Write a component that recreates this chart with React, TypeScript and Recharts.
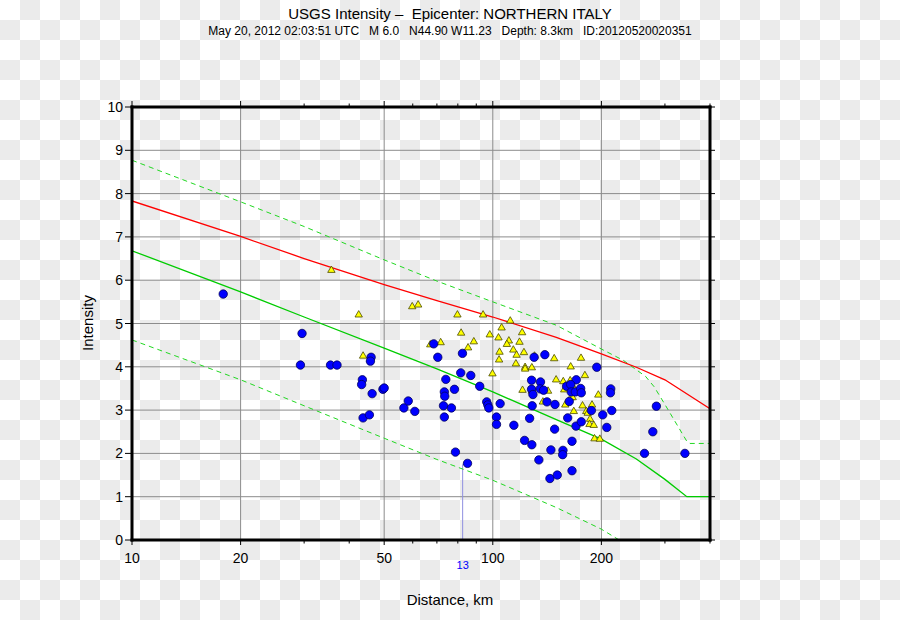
import React from 'react';
import { ComposedChart, XAxis, YAxis, Line, Scatter, ReferenceLine } from 'recharts';

// ---------- axis values ----------
const xTickValues = [10, 20, 30, 40, 50, 60, 70, 80, 90, 100, 200, 300, 400];
const xLabelledTicks = [10, 20, 50, 100, 200];
const yTickValues = [0, 1, 2, 3, 4, 5, 6, 7, 8, 9, 10];
const xGridValues = [20, 50, 100, 200];
const yGridValues = [1, 2, 3, 4, 5, 6, 7, 8, 9];

// ---------- curves: [distance km, intensity] ----------
const redCurve: [number, number][] = [
  [10, 7.83], [20, 7.01], [30, 6.5], [50, 5.9], [70, 5.53], [100, 5.15],
  [150, 4.68], [200, 4.3], [250, 3.99], [300, 3.7], [400, 3.03],
];
const greenCurve: [number, number][] = [
  [10, 6.68], [20, 5.73], [30, 5.15], [50, 4.43], [70, 3.95], [100, 3.42],
  [150, 2.78], [200, 2.33], [250, 1.87], [300, 1.4], [345, 1.0], [400, 1.0],
];
const greenUpper: [number, number][] = [
  [10, 8.77], [20, 7.81], [30, 7.24], [50, 6.47], [70, 5.98], [100, 5.5],
  [150, 4.96], [200, 4.41], [230, 4.15], [250, 3.93], [265, 3.78], [280, 3.54],
  [300, 3.13], [345, 2.28], [352, 2.23], [400, 2.23],
];
const greenLower: [number, number][] = [
  [10, 4.62], [20, 3.7], [30, 3.1], [50, 2.35], [70, 1.86], [100, 1.38],
  [150, 0.75], [200, 0.25], [224, 0.0],
];

// ---------- observations: [distance km, intensity] ----------
const stationPoints: [number, number][] = [
  [17.9, 5.68], [29.6, 4.77], [29.3, 4.04], [35.5, 4.04], [37.0, 4.04], [43.5, 3.7],
  [43.3, 3.59], [46.0, 4.22], [45.8, 4.13], [46.3, 3.38], [43.7, 2.82], [45.5, 2.89],
  [49.6, 3.48], [50.0, 3.51], [56.7, 3.05], [58.3, 3.21], [60.8, 2.97],
  [68.6, 4.53], [70.4, 4.22], [74.1, 3.71], [73.4, 3.42], [73.6, 3.32], [73.0, 3.1],
  [73.4, 2.84], [76.8, 3.05], [78.3, 3.48], [82.4, 4.31], [81.5, 3.86], [86.9, 3.8],
  [92.0, 3.55], [96.2, 3.19], [96.9, 3.12], [97.5, 3.05], [104.8, 3.15], [102.4, 2.84],
  [102.4, 2.67], [78.8, 2.03], [85.1, 1.77], [114.4, 2.65], [122.5, 2.3], [128.3, 2.2],
  [134.2, 1.85], [126.5, 2.81], [128.6, 3.1], [128.1, 3.69], [128.1, 3.48], [129.2, 3.36],
  [130.2, 4.22], [139.4, 4.28], [135.6, 3.65], [135.3, 3.49], [138.3, 3.46], [141.3, 3.19],
  [148.7, 3.13], [148.4, 2.56], [144.9, 2.08], [144.0, 1.42], [150.9, 1.5], [156.5, 2.07],
  [156.2, 1.97], [165.8, 2.28], [165.8, 1.6], [161.3, 2.82], [170.1, 2.63], [175.9, 2.73],
  [170.4, 3.7], [160.2, 3.55], [164.4, 3.59], [165.0, 3.42], [169.3, 3.42], [175.2, 3.5],
  [175.9, 3.4], [162.9, 3.2], [187.6, 2.99], [194.2, 3.99], [201.7, 2.89], [207.0, 2.6],
  [212.3, 3.49], [211.9, 3.4], [213.7, 2.99], [263.3, 2.0], [277.7, 2.5], [284.1, 3.09],
  [340.8, 2.0],
];
const reportPoints: [number, number][] = [
  [35.7, 6.24], [42.5, 5.21], [43.7, 4.26], [59.8, 5.4], [62.1, 5.44], [79.8, 5.21],
  [94.0, 5.21], [111.8, 5.07], [81.7, 4.79], [98.1, 4.75], [105.8, 4.91], [103.7, 4.68],
  [120.6, 4.8], [110.8, 4.61], [109.4, 4.53], [118.6, 4.58], [88.6, 4.59], [71.7, 4.57],
  [67.1, 4.52], [85.4, 4.45], [114.0, 4.4], [116.4, 4.28], [122.0, 4.34], [104.4, 4.35],
  [104.1, 4.17], [115.9, 4.08], [122.9, 4.0], [122.9, 3.96], [128.3, 3.99], [130.5, 4.26],
  [148.0, 4.2], [175.6, 4.21], [164.4, 4.01], [99.8, 3.85], [120.9, 3.47], [128.3, 3.45],
  [142.3, 3.45], [149.8, 3.71], [156.8, 3.67], [163.9, 3.69], [180.0, 3.81], [157.8, 3.48],
  [168.2, 3.5], [137.7, 3.2], [164.7, 3.3], [166.5, 3.3], [158.8, 3.13], [167.7, 2.98],
  [177.3, 3.11], [188.4, 3.13], [196.1, 3.36], [181.6, 2.98], [183.3, 2.94], [186.0, 2.8],
  [185.4, 2.68], [190.5, 2.66], [191.4, 2.35], [198.0, 2.34],
];

const markerDistance = 82.5;
const markerIntensity = 1.75;
const markerLabel = '13';

const rows = (pairs: [number, number][]) => pairs.map(([d, i]) => ({ d, i }));

const FONT = '"Liberation Sans", Arial, Helvetica, sans-serif';

const BottomTick = (props: any) => {
  const { x, y, payload } = props;
  const v = payload.value;
  const labelled = xLabelledTicks.includes(v);
  return (
    <g>
      <line x1={x} x2={x} y1={y} y2={y + (labelled ? 5 : 3.5)} stroke="#000" strokeWidth={1} />
      {labelled && (
        <text x={x} y={y + 23} textAnchor="middle" fontSize={14} fill="#000" fontFamily={FONT}>
          {v}
        </text>
      )}
    </g>
  );
};

const TopTick = (props: any) => {
  const { x, y, payload } = props;
  const v = payload.value;
  const major = xLabelledTicks.includes(v);
  return <line x1={x} x2={x} y1={y} y2={y - (major ? 6 : 3.5)} stroke="#000" strokeWidth={1} />;
};

const LeftTick = (props: any) => {
  const { x, y, payload } = props;
  return (
    <g>
      <line x1={x} x2={x - 7} y1={y} y2={y} stroke="#000" strokeWidth={1} />
      <text x={x - 9} y={y + 5} textAnchor="end" fontSize={14} fill="#000" fontFamily={FONT}>
        {payload.value}
      </text>
    </g>
  );
};

const RightTick = (props: any) => {
  const { x, y } = props;
  return <line x1={x} x2={x + 5} y1={y} y2={y} stroke="#000" strokeWidth={1} />;
};

const Circle = (p: any) => (
  <circle cx={p.cx} cy={p.cy} r={4.2} fill="#0000ff" stroke="#00005a" strokeWidth={0.8} />
);
const Triangle = (p: any) => (
  <polygon
    points={`${p.cx},${p.cy - 3.8} ${p.cx - 3.7},${p.cy + 2.6} ${p.cx + 3.7},${p.cy + 2.6}`}
    fill="#ffff00"
    stroke="#4a4a00"
    strokeWidth={0.8}
  />
);

const axisLine = { stroke: '#000', strokeWidth: 3, strokeLinecap: 'square' as const };

export default function App() {
  return (
    <div
      style={{
        position: 'absolute',
        left: 0,
        top: 0,
        width: 900,
        height: 620,
        backgroundColor: '#fff',
        backgroundImage:
          'conic-gradient(#ebebeb 0 25%, #ffffff 0 50%, #ebebeb 0 75%, #ffffff 0)',
        backgroundSize: '40px 40px',
        fontFamily: FONT,
      }}
    >
      <ComposedChart
        width={900}
        height={620}
        margin={{ top: 97, right: 180, bottom: 50, left: 92 }}
      >
        <XAxis
          xAxisId="b"
          dataKey="d"
          type="number"
          scale="log"
          domain={[10, 400]}
          allowDataOverflow
          ticks={xTickValues}
          interval={0}
          tickSize={0}
          tickMargin={0}
          tick={BottomTick}
          axisLine={axisLine}
          height={30}
          orientation="bottom"
        />
        <XAxis
          xAxisId="t"
          dataKey="d"
          type="number"
          scale="log"
          domain={[10, 400]}
          allowDataOverflow
          ticks={xTickValues}
          interval={0}
          tickSize={0}
          tickMargin={0}
          tick={TopTick}
          axisLine={axisLine}
          height={10}
          orientation="top"
        />
        <YAxis
          yAxisId="l"
          dataKey="i"
          type="number"
          domain={[0, 10]}
          allowDataOverflow
          ticks={yTickValues}
          interval={0}
          tickSize={0}
          tickMargin={0}
          tick={LeftTick}
          axisLine={axisLine}
          width={40}
          orientation="left"
        />
        <YAxis
          yAxisId="r"
          dataKey="i"
          type="number"
          domain={[0, 10]}
          allowDataOverflow
          ticks={yTickValues}
          interval={0}
          tickSize={0}
          tickMargin={0}
          tick={RightTick}
          axisLine={axisLine}
          width={10}
          orientation="right"
        />
        {xGridValues.map((v) => (
          <ReferenceLine key={'gx' + v} x={v} xAxisId="b" yAxisId="l" stroke="#8c8c8c" strokeWidth={1} />
        ))}
        {yGridValues.map((v) => (
          <ReferenceLine key={'gy' + v} y={v} xAxisId="b" yAxisId="l" stroke="#8c8c8c" strokeWidth={1} />
        ))}
        <ReferenceLine
          xAxisId="b"
          yAxisId="l"
          segment={[
            { x: markerDistance, y: 0 },
            { x: markerDistance, y: markerIntensity },
          ]}
          stroke="#9090e0"
          strokeWidth={1}
          ifOverflow="visible"
          label={{ value: markerLabel, position: 'bottom', fill: '#0000ff', fontSize: 11, offset: 21 }}
        />
        <Line data={rows(greenLower)} xAxisId="b" yAxisId="l" dataKey="i" type="linear" stroke="#22d822" strokeWidth={1} strokeDasharray="5 4" dot={false} isAnimationActive={false} />
        <Line data={rows(greenUpper)} xAxisId="b" yAxisId="l" dataKey="i" type="linear" stroke="#22d822" strokeWidth={1} strokeDasharray="5 4" dot={false} isAnimationActive={false} />
        <Line data={rows(greenCurve)} xAxisId="b" yAxisId="l" dataKey="i" type="linear" stroke="#00cc00" strokeWidth={1.3} dot={false} isAnimationActive={false} />
        <Line data={rows(redCurve)} xAxisId="b" yAxisId="l" dataKey="i" type="linear" stroke="#ff0000" strokeWidth={1.3} dot={false} isAnimationActive={false} />
        <Scatter data={rows(reportPoints)} xAxisId="b" yAxisId="l" dataKey="i" shape={Triangle} isAnimationActive={false} />
        <Scatter data={rows(stationPoints)} xAxisId="b" yAxisId="l" dataKey="i" shape={Circle} isAnimationActive={false} />
      </ComposedChart>
      <svg
        width={900}
        height={620}
        style={{ position: 'absolute', left: 0, top: 0, pointerEvents: 'none' }}
        fontFamily={FONT}
      >
        <text x={450} y={18.5} textAnchor="middle" fontSize={15} fill="#000" style={{ whiteSpace: 'pre' }}>
          {'USGS Intensity –  Epicenter: NORTHERN ITALY'}
        </text>
        <text x={450} y={35} textAnchor="middle" fontSize={12} fill="#000" style={{ whiteSpace: 'pre' }}>
          {'May 20, 2012 02:03:51 UTC   M 6.0   N44.90 W11.23   Depth: 8.3km   ID:20120520020351'}
        </text>
        <text x={93} y={323} textAnchor="middle" fontSize={15} fill="#000" transform="rotate(-90 93 323)">
          Intensity
        </text>
        <text x={450} y={605} textAnchor="middle" fontSize={15} fill="#000">
          Distance, km
        </text>
      </svg>
    </div>
  );
}
